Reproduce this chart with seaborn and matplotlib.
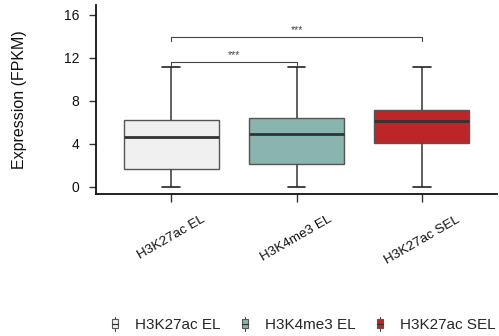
import numpy as np
import pandas as pd
import matplotlib
matplotlib.use("Agg")
import matplotlib.pyplot as plt
import seaborn as sns
from matplotlib.legend_handler import HandlerBase
from matplotlib.patches import Rectangle
from matplotlib.lines import Line2D

# ---- data (five-number summaries) ----
categories = ["H3K27ac EL", "H3K4me3 EL", "H3K27ac SEL"]
h3k27ac_el = [0.0, 1.65, 4.65, 6.2, 11.1]
h3k4me3_el = [0.0, 2.1, 4.95, 6.4, 11.1]
h3k27ac_sel = [0.0, 4.1, 6.15, 7.15, 11.1]
colors = ["#F0F0F0", "#8AB4AE", "#BC2629"]
y_ticks = [0, 4, 8, 12, 16]
comparisons = [(0, 1, 11.6, "***"), (0, 2, 13.9, "***")]

df = pd.DataFrame({
    "group": np.repeat(categories, 5),
    "value": h3k27ac_el + h3k4me3_el + h3k27ac_sel,
})

sns.set_theme(style="white")
plt.rcParams["font.family"] = ["Liberation Sans", "DejaVu Sans"]

fig = plt.figure(figsize=(4.99, 3.36), dpi=100)
ax = fig.add_axes([96 / 499, 1 - 194 / 336, (497 - 96) / 499, (194 - 5) / 336])

sns.boxplot(data=df, x="group", y="value", hue="group", order=categories,
            hue_order=categories, palette=colors, width=0.76, whis=np.inf,
            linecolor="#555555", linewidth=1.0, legend=False, ax=ax,
            medianprops=dict(color="#333333", linewidth=2.0),
            whiskerprops=dict(color="#444444", linewidth=1.2),
            capprops=dict(color="#222222", linewidth=1.2),
            capwidths=0.14, saturation=1)

ax.set_xlim(-0.6, 2.6)
ax.set_ylim(-0.65, 16.9)
ax.set_yticks(y_ticks)
ax.set_yticklabels([str(t) for t in y_ticks])
ax.set_xlabel("")
ax.set_ylabel("Expression (FPKM)", fontsize=11.5, color="#111111")
ax.yaxis.set_label_coords((27 - 96) / 401, 0.5)

for s in ["top", "right"]:
    ax.spines[s].set_visible(False)
for s in ["left", "bottom"]:
    ax.spines[s].set_color("#111111")
    ax.spines[s].set_linewidth(1.3)

ax.tick_params(axis="y", length=5, width=1.0, color="#333333", labelsize=10,
               labelcolor="#111111", pad=7, left=True)
ax.tick_params(axis="x", length=6, width=1.0, color="#333333", labelsize=9.7,
               labelcolor="#111111", pad=8, bottom=True)
for lab in ax.get_xticklabels():
    lab.set_rotation(30)
    lab.set_ha("center")

# significance brackets
for a, b, y, txt in comparisons:
    ax.plot([a, a, b, b], [y - 0.3, y, y, y - 0.3], color="#444444", lw=0.8,
            clip_on=False)
    ax.text((a + b) / 2, y + 0.35, txt, ha="center", va="baseline",
            fontsize=7.5, color="#444444")


class BoxHandler(HandlerBase):
    def __init__(self, fc):
        super().__init__()
        self.fc = fc

    def create_artists(self, legend, orig_handle, xdescent, ydescent, width,
                       height, fontsize, trans):
        cx = width / 2 - xdescent
        bw = 4.0
        bh = 6.0
        cy = height / 2 - ydescent
        rect = Rectangle((cx - bw / 2, cy - bh / 2), bw, bh, facecolor=self.fc,
                         edgecolor="#555555", lw=0.8, transform=trans)
        med = Line2D([cx - bw / 2, cx + bw / 2], [cy, cy], color="#333333",
                     lw=0.9, transform=trans)
        w1 = Line2D([cx, cx], [cy + bh / 2, cy + bh / 2 + 2], color="#444444",
                    lw=0.8, transform=trans)
        w2 = Line2D([cx, cx], [cy - bh / 2, cy - bh / 2 - 2], color="#444444",
                    lw=0.8, transform=trans)
        return [w1, w2, rect, med]


handles = [Rectangle((0, 0), 1, 1) for _ in categories]
fig.legend(handles, categories, handler_map={h: BoxHandler(c) for h, c in zip(handles, colors)},
           loc="center right", bbox_to_anchor=(1.005, 1 - 325 / 336), ncol=3,
           frameon=False, fontsize=11, handlelength=0.8, handletextpad=0.9,
           columnspacing=1.2, borderaxespad=0)

fig.savefig("out.png", dpi=100)
